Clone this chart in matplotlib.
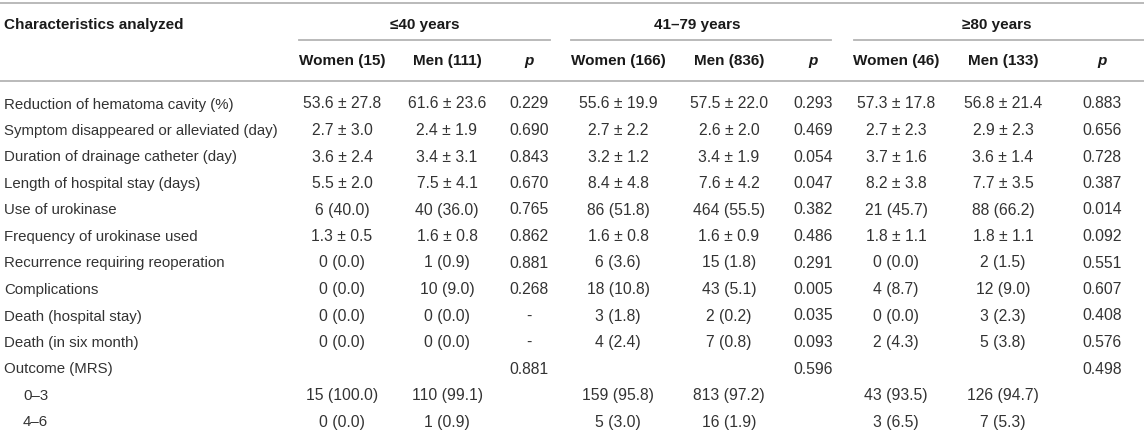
import matplotlib
matplotlib.use("Agg")
import matplotlib.pyplot as plt

plt.rcParams['font.family'] = ['Liberation Sans', 'DejaVu Sans']

# table content
row_labels = ["Reduction of hematoma cavity (%)", "Symptom disappeared or alleviated (day)",
              "Duration of drainage catheter (day)", "Length of hospital stay (days)",
              "Use of urokinase", "Frequency of urokinase used", "Recurrence requiring reoperation",
              "Complications", "Death (hospital stay)", "Death (in six month)", "Outcome (MRS)",
              "0–3", "4–6"]
indented = [False] * 11 + [True, True]

groups = ["≤40 years", "41–79 years", "≥80 years"]
sub_headers = ["Women (15)", "Men (111)", "p",
               "Women (166)", "Men (836)", "p",
               "Women (46)", "Men (133)", "p"]

women_40 = ["53.6 ± 27.8", "2.7 ± 3.0", "3.6 ± 2.4", "5.5 ± 2.0", "6 (40.0)", "1.3 ± 0.5",
            "0 (0.0)", "0 (0.0)", "0 (0.0)", "0 (0.0)", "", "15 (100.0)", "0 (0.0)"]
men_40 = ["61.6 ± 23.6", "2.4 ± 1.9", "3.4 ± 3.1", "7.5 ± 4.1", "40 (36.0)", "1.6 ± 0.8",
          "1 (0.9)", "10 (9.0)", "0 (0.0)", "0 (0.0)", "", "110 (99.1)", "1 (0.9)"]
p_40 = ["0.229", "0.690", "0.843", "0.670", "0.765", "0.862", "0.881", "0.268", "-", "-",
        "0.881", "", ""]

women_41_79 = ["55.6 ± 19.9", "2.7 ± 2.2", "3.2 ± 1.2", "8.4 ± 4.8", "86 (51.8)", "1.6 ± 0.8",
               "6 (3.6)", "18 (10.8)", "3 (1.8)", "4 (2.4)", "", "159 (95.8)", "5 (3.0)"]
men_41_79 = ["57.5 ± 22.0", "2.6 ± 2.0", "3.4 ± 1.9", "7.6 ± 4.2", "464 (55.5)", "1.6 ± 0.9",
             "15 (1.8)", "43 (5.1)", "2 (0.2)", "7 (0.8)", "", "813 (97.2)", "16 (1.9)"]
p_41_79 = ["0.293", "0.469", "0.054", "0.047", "0.382", "0.486", "0.291", "0.005", "0.035",
           "0.093", "0.596", "", ""]

women_80 = ["57.3 ± 17.8", "2.7 ± 2.3", "3.7 ± 1.6", "8.2 ± 3.8", "21 (45.7)", "1.8 ± 1.1",
            "0 (0.0)", "4 (8.7)", "0 (0.0)", "2 (4.3)", "", "43 (93.5)", "3 (6.5)"]
men_80 = ["56.8 ± 21.4", "2.9 ± 2.3", "3.6 ± 1.4", "7.7 ± 3.5", "88 (66.2)", "1.8 ± 1.1",
          "2 (1.5)", "12 (9.0)", "3 (2.3)", "5 (3.8)", "", "126 (94.7)", "7 (5.3)"]
p_80 = ["0.883", "0.656", "0.728", "0.387", "0.014", "0.092", "0.551", "0.607", "0.408",
        "0.576", "0.498", "", ""]

columns = [women_40, men_40, p_40, women_41_79, men_41_79, p_41_79, women_80, men_80, p_80]

# layout (pixel units, y down)
W, H = 1144, 432
col_x = [342, 447, 529, 618, 729, 813, 896, 1003, 1102]
group_x = [425, 697, 997]
group_rule = [(299, 550), (571, 831), (854, 1144)]
y_group, y_sub, y_row0, row_step = 23, 60, 103, 26.5
base_off = 5.5  # text middle -> baseline
line_col = "#b4b4b4"
txt_col = "#333333"
hdr_col = "#1a1a1a"
fs_hdr, fs_lab, fs_val = 11, 10.8, 11.3

fig = plt.figure(figsize=(W / 100, H / 100), dpi=100)
ax = fig.add_axes([0, 0, 1, 1])
ax.set_xlim(0, W)
ax.set_ylim(H, 0)
ax.axis("off")

# rules
ax.plot([0, W], [3, 3], color=line_col, lw=1.3)
ax.plot([0, W], [81, 81], color=line_col, lw=1.3)
for x0, x1 in group_rule:
    ax.plot([x0, x1], [40, 40], color=line_col, lw=1.3)

# headers
ax.text(4, y_group + base_off, "Characteristics analyzed", fontsize=fs_hdr, fontweight="bold",
        color=hdr_col, va="baseline", ha="left")
for gx, g in zip(group_x, groups):
    ax.text(gx, y_group + base_off, g, fontsize=fs_hdr, fontweight="bold", color=hdr_col,
            va="baseline", ha="center")
for cx, s in zip(col_x, sub_headers):
    style = "italic" if s == "p" else "normal"
    ax.text(cx, y_sub + base_off, s, fontsize=fs_hdr, fontweight="bold", fontstyle=style,
            color=hdr_col, va="baseline", ha="center")

# body
for i, lab in enumerate(row_labels):
    y = y_row0 + i * row_step + base_off
    ax.text(23 if indented[i] else 4, y, lab, fontsize=fs_lab, color=txt_col,
            va="baseline", ha="left")
    for cx, col in zip(col_x, columns):
        if col[i]:
            ax.text(cx, y, col[i], fontsize=fs_val, color=txt_col,
                    va="baseline", ha="center")

fig.savefig("out.png", dpi=100)
